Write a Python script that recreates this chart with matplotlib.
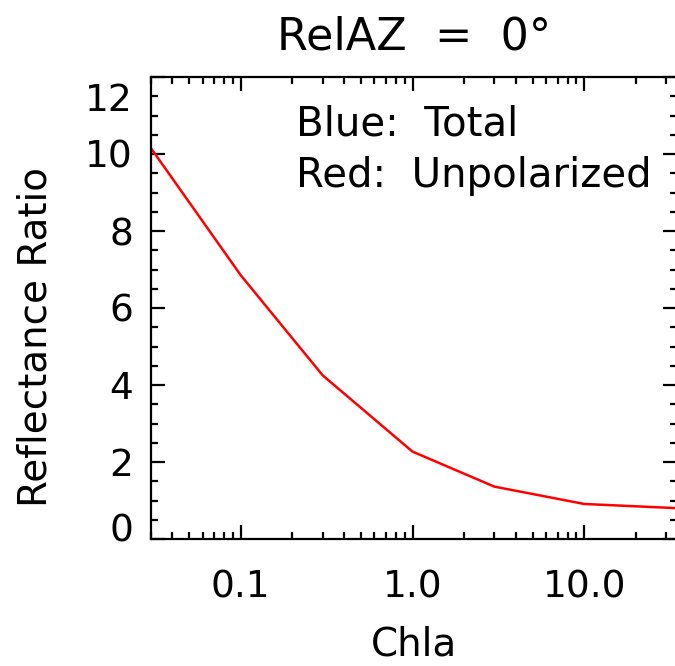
import matplotlib
matplotlib.use("Agg")
import matplotlib.pyplot as plt
import matplotlib.transforms as mtransforms
from matplotlib.ticker import LogLocator, MultipleLocator, FixedLocator
import numpy as np

# data
chla = [0.03, 0.1, 0.3, 1.0, 3.0, 10.0, 35.0]
ratio = [10.15, 6.85, 4.25, 2.27, 1.36, 0.91, 0.80]

xtick_vals = [0.1, 1.0, 10.0]
xtick_labels = ['0.1', '1.0', '10.0']
ytick_vals = [0, 2, 4, 6, 8, 10, 12]

plt.rcParams['font.family'] = 'DejaVu Sans'

fig = plt.figure(figsize=(6.75, 6.66), dpi=100)
W, H = 675, 666
left, right, top, bottom = 151, 676.6, 77, 539
ax = fig.add_axes([left / W, 1 - bottom / H, (right - left) / W, (bottom - top) / H])

ax.plot(chla, ratio, color='red', lw=1.8)

ax.set_xscale('log')
ax.set_xlim(0.03, 34.5)
ax.set_ylim(0, 12)

ax.xaxis.set_major_locator(FixedLocator(xtick_vals))
ax.set_xticklabels(xtick_labels)
ax.xaxis.set_minor_locator(LogLocator(base=10, subs=np.arange(2, 10)))
ax.xaxis.set_minor_formatter(plt.NullFormatter())
ax.set_yticks(ytick_vals)
ax.yaxis.set_minor_locator(MultipleLocator(0.5))

ax.tick_params(which='both', direction='in', top=True, right=True, width=1.6)
ax.tick_params(which='major', length=10)
ax.tick_params(which='minor', length=5)
ax.tick_params(axis='x', labelsize=27, pad=22)
ax.tick_params(axis='y', labelsize=27, pad=13)
for s in ax.spines.values():
    s.set_linewidth(1.6)

# IDL pulls the end labels inside the axis range
fig.canvas.draw()
ylabs = ax.get_yticklabels()
ylabs[0].set_transform(ylabs[0].get_transform() + mtransforms.ScaledTranslation(0, 0.12, fig.dpi_scale_trans))
ylabs[-1].set_transform(ylabs[-1].get_transform() + mtransforms.ScaledTranslation(0, -0.20, fig.dpi_scale_trans))

ax.set_xlabel('Chla', fontsize=28, labelpad=14)
ax.set_ylabel('Reflectance Ratio', fontsize=28, labelpad=22, y=0.437)
ax.set_title('RelAZ  =  0°', fontsize=32, pad=20)

ax.text(0.276, 0.874, 'Blue:  Total', transform=ax.transAxes, fontsize=29, va='baseline')
ax.text(0.276, 0.762, 'Red:  Unpolarized', transform=ax.transAxes, fontsize=29, va='baseline')

plt.savefig('out.png', dpi=100)
